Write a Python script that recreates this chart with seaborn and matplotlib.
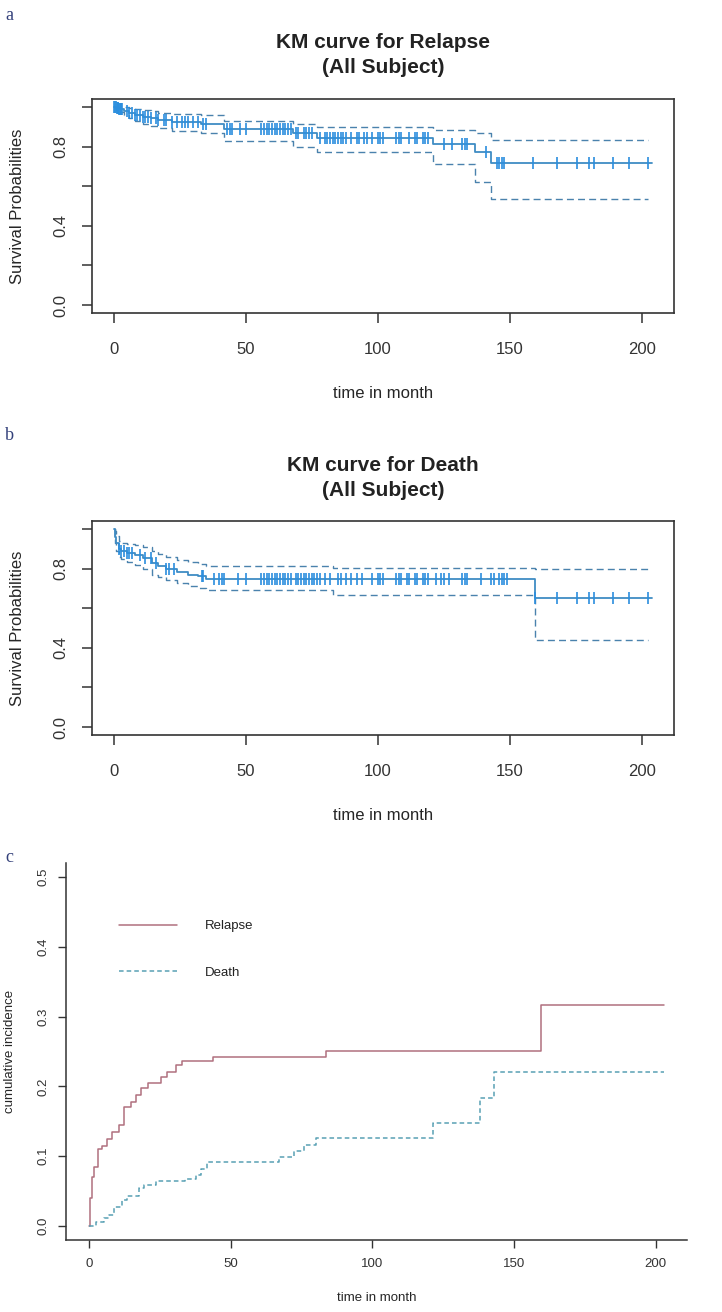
import numpy as np
import pandas as pd
import matplotlib
matplotlib.use('Agg')
from matplotlib import pyplot as plt
import seaborn as sns

# =============================================================================
# data
# =============================================================================
# a: KM for relapse
times_a = [0, 1, 2, 4, 6, 8, 11, 14, 17, 22, 33, 42, 68, 77, 121, 137, 143]
surv_a = [1.0, 0.995, 0.99, 0.98, 0.97, 0.96, 0.95, 0.945, 0.935, 0.925, 0.915,
          0.89, 0.87, 0.845, 0.815, 0.775, 0.715]
upper_a = [1.0, 1.0, 1.0, 1.0, 0.995, 0.99, 0.985, 0.98, 0.97, 0.965, 0.96,
           0.93, 0.915, 0.90, 0.885, 0.87, 0.835]
lower_a = [1.0, 0.985, 0.975, 0.96, 0.945, 0.93, 0.915, 0.905, 0.895, 0.88, 0.87,
           0.83, 0.80, 0.77, 0.71, 0.62, 0.535]
censor_a = [0.3, 0.6, 0.9, 1.2, 1.5, 1.8, 2.1, 2.4, 2.7, 3.0, 3.3,
            5, 6, 7, 8, 9, 10, 11, 12, 13, 14, 16, 17, 19, 20, 22, 24, 26, 27,
            28, 30, 32, 34, 35, 43, 44, 45, 48, 50, 56, 57, 58, 59, 60, 61, 62,
            63, 64, 65, 66, 67, 69, 70, 72, 73, 74, 75, 78, 80, 81, 82, 83, 84,
            85, 86, 87, 88, 90, 92, 93, 95, 96, 98, 100, 101, 102, 107, 108, 109,
            112, 114, 115, 117, 118, 119, 125, 128, 132, 133, 134, 141,
            145, 146, 147, 148, 159, 168, 175.5, 180, 182, 189, 195, 202.5]
end_a = 204

# b: KM for death
times_b = [0, 0.5, 1, 2, 3, 5, 8, 11, 14.5, 17, 20, 24, 28, 32, 35, 83, 159.5]
surv_b = [1.0, 0.96, 0.93, 0.90, 0.89, 0.88, 0.87, 0.855, 0.83, 0.815, 0.80,
          0.785, 0.77, 0.76, 0.745, 0.745, 0.65]
upper_b = [1.0, 0.99, 0.965, 0.94, 0.93, 0.925, 0.92, 0.91, 0.89, 0.875, 0.86,
           0.845, 0.835, 0.825, 0.815, 0.805, 0.80]
lower_b = [1.0, 0.93, 0.89, 0.86, 0.85, 0.835, 0.82, 0.80, 0.77, 0.755, 0.74,
           0.725, 0.71, 0.70, 0.69, 0.665, 0.44]
censor_b = [2, 3, 4, 5, 6, 7, 10, 12, 14, 16, 20, 21, 23, 33.5, 34, 38, 40, 41,
            42, 47, 50, 56, 57, 58, 59, 60, 61, 62, 63, 64, 65, 66, 67, 69, 70,
            71, 72, 73, 74, 75, 76, 77, 78, 80, 82, 85, 86, 88, 90, 92, 94, 98,
            100, 101, 102, 107, 108, 109, 111, 112, 114, 115, 117, 118, 119, 122,
            124, 125, 127, 132, 133, 134, 139, 143, 144, 146, 147, 148, 149,
            159.5, 168, 175.5, 180, 182, 189, 195, 202.5]
end_b = 204

# c: cumulative incidence
rel_t = [0, 0.5, 1.2, 1.8, 3, 4.7, 6.5, 8.2, 10.6, 12.4, 14.7, 16.5, 18.3, 21,
         25.3, 27.7, 30.6, 33, 43.6, 83.6, 159.7]
rel_ci = [0, 0.04, 0.07, 0.085, 0.11, 0.115, 0.125, 0.135, 0.145, 0.17, 0.177,
          0.188, 0.198, 0.205, 0.214, 0.221, 0.23, 0.236, 0.242, 0.251, 0.317]
death_t = [0, 2.5, 5.3, 7, 8.8, 11.8, 13.5, 17.7, 19.4, 23.5, 34, 37.7, 39.5,
           41.8, 67, 72.4, 76, 80, 121.6, 138, 143]
death_ci = [0, 0.006, 0.012, 0.016, 0.027, 0.037, 0.043, 0.054, 0.059, 0.065,
            0.068, 0.073, 0.081, 0.092, 0.099, 0.107, 0.116, 0.126, 0.147, 0.183,
            0.221]
end_c = 203

# =============================================================================
# style
# =============================================================================
sns.set_theme(style='white')
plt.rcParams['font.family'] = ['Liberation Sans', 'DejaVu Sans']
plt.rcParams['axes.edgecolor'] = '#333333'
plt.rcParams['xtick.color'] = '#333333'
plt.rcParams['ytick.color'] = '#333333'
plt.rcParams['text.color'] = '#222222'

line_col = '#3f8cc4'
mark_col = '#2b8ede'
ci_col = '#4a82ad'
rel_col = '#b0707e'
death_col = '#58a0b4'
letter_col = '#33407a'

W, H = 722, 1312
fig = plt.figure(figsize=(W / 100, H / 100), dpi=100)


def step_df(t, v, end):
    return pd.DataFrame({'time': list(t) + [end], 'val': list(v) + [v[-1]]})


def km_panel(ax, t, s, up, lo, cens, end):
    ci_end = end - 1.5
    for band in (up, lo):
        sns.lineplot(data=step_df(t, band, ci_end), x='time', y='val', ax=ax,
                     drawstyle='steps-post', estimator=None, sort=False,
                     color=ci_col, linewidth=1.0, linestyle=(0, (5, 3)))
    sns.lineplot(data=step_df(t, s, end), x='time', y='val', ax=ax,
                 drawstyle='steps-post', estimator=None, sort=False,
                 color=line_col, linewidth=1.3)
    idx = np.searchsorted(np.array(t), np.array(cens), side='right') - 1
    ax.plot(cens, np.array(s)[idx], linestyle='none', marker='|',
            markersize=9, markeredgewidth=1.2, color=mark_col)
    ax.set_xlim(-8.16, 212.2)
    ax.set_ylim(-0.04, 1.04)
    ax.set_xticks([0, 50, 100, 150, 200])
    ax.set_yticks([0, 0.2, 0.4, 0.6, 0.8, 1.0])
    ax.set_yticklabels(['0.0', '', '0.4', '', '0.8', ''])
    for sp in ax.spines.values():
        sp.set_linewidth(1.2)
    ax.tick_params(axis='both', length=7, width=1.1, labelsize=12, bottom=True,
                   left=True)
    ax.tick_params(axis='x', pad=14)
    ax.tick_params(axis='y', pad=10, labelrotation=90)
    for lab in ax.get_yticklabels():
        lab.set_va('center')
    ax.set_xlabel('time in month', fontsize=12)
    ax.set_ylabel('Survival Probabilities', fontsize=12)
    ax.xaxis.set_label_coords(0.5, -80 / 214)
    ax.xaxis.label.set_va('center')
    ax.yaxis.set_label_coords(-75 / 582, 0.5)
    ax.yaxis.label.set_va('center')


# panel a
ax_a = fig.add_axes([92 / W, 1 - 313 / H, 582 / W, 214 / H])
km_panel(ax_a, times_a, surv_a, upper_a, lower_a, censor_a, end_a)
fig.text(383 / W, 1 - 55 / H, 'KM curve for Relapse\n(All Subject)', ha='center',
         va='center', fontsize=15, fontweight='bold', linespacing=1.4)
fig.text(5 / W, 1 - 15 / H, 'a', fontsize=13, color=letter_col, va='center',
         family=['Liberation Serif', 'DejaVu Serif'])

# panel b
ax_b = fig.add_axes([92 / W, 1 - 735 / H, 582 / W, 214 / H])
km_panel(ax_b, times_b, surv_b, upper_b, lower_b, censor_b, end_b)
fig.text(383 / W, 1 - 478 / H, 'KM curve for Death\n(All Subject)', ha='center',
         va='center', fontsize=15, fontweight='bold', linespacing=1.4)
fig.text(5 / W, 1 - 435 / H, 'b', fontsize=13, color=letter_col, va='center',
         family=['Liberation Serif', 'DejaVu Serif'])

# panel c
ax_c = fig.add_axes([66 / W, 1 - 1240 / H, 621 / W, 377 / H])
sns.lineplot(data=step_df(rel_t, rel_ci, end_c), x='time', y='val', ax=ax_c,
             drawstyle='steps-post', estimator=None, sort=False,
             color=rel_col, linewidth=1.1, label='Relapse')
sns.lineplot(data=step_df(death_t, death_ci, end_c), x='time', y='val', ax=ax_c,
             drawstyle='steps-post', estimator=None, sort=False,
             color=death_col, linewidth=1.1, linestyle=(0, (3, 2)), label='Death')
ax_c.set_xlim(-8.12, 211.1)
ax_c.set_ylim(-0.02, 0.52)
ax_c.set_xticks([0, 50, 100, 150, 200])
ax_c.set_yticks([0, 0.1, 0.2, 0.3, 0.4, 0.5])
ax_c.set_yticklabels(['0.0', '0.1', '0.2', '0.3', '0.4', '0.5'])
ax_c.spines['top'].set_visible(False)
ax_c.spines['right'].set_visible(False)
ax_c.spines['left'].set_linewidth(1.1)
ax_c.spines['bottom'].set_linewidth(1.1)
ax_c.tick_params(axis='both', length=6, width=1.0, labelsize=9.5, bottom=True,
                 left=True)
ax_c.tick_params(axis='x', pad=7)
ax_c.tick_params(axis='y', pad=6, labelrotation=90)
for lab in ax_c.get_yticklabels():
    lab.set_va('center')
ax_c.set_xlabel('time in month', fontsize=9.5)
ax_c.set_ylabel('cumulative incidence', fontsize=9.5)
ax_c.xaxis.set_label_coords(0.5, -58 / 377)
ax_c.xaxis.label.set_va('center')
ax_c.yaxis.set_label_coords(-56 / 621, 0.5)
ax_c.yaxis.label.set_va('center')
ax_c.legend(loc='upper left', bbox_to_anchor=(0.085, 0.849), frameon=False,
            fontsize=9.5, handlelength=4.4, handletextpad=2.1, labelspacing=2.6,
            borderpad=0, borderaxespad=0)
fig.text(5 / W, 1 - 858 / H, 'c', fontsize=13, color=letter_col, va='center',
         family=['Liberation Serif', 'DejaVu Serif'])

fig.savefig('out.png', dpi=100)
